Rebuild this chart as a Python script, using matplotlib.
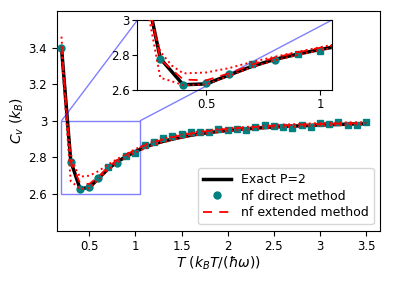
import numpy as np
import matplotlib
matplotlib.use('Agg')
import matplotlib.pyplot as plt
from matplotlib.ticker import FormatStrFormatter
from mpl_toolkits.axes_grid1.inset_locator import mark_inset

# ===============================
# DATA
# ===============================
T = np.round(np.arange(0.2, 3.51, 0.1), 2)

cv_exact = [3.40, 2.78, 2.63, 2.635, 2.685, 2.735, 2.775, 2.805, 2.832, 2.856,
            2.873, 2.888, 2.900, 2.911, 2.921, 2.929, 2.936, 2.942, 2.947, 2.952,
            2.956, 2.960, 2.963, 2.966, 2.969, 2.971, 2.973, 2.975, 2.977, 2.979,
            2.980, 2.982, 2.983, 2.984]

cv_ext = [3.41, 2.775, 2.66, 2.655, 2.695, 2.745, 2.785, 2.815, 2.842, 2.866,
          2.883, 2.898, 2.910, 2.921, 2.930, 2.938, 2.945, 2.951, 2.956, 2.960,
          2.964, 2.967, 2.970, 2.973, 2.975, 2.977, 2.979, 2.981, 2.982, 2.984,
          2.985, 2.986, 2.987, 2.988]

# dotted bounds of the extended method
T_up = [0.2, 0.25, 0.3, 0.35, 0.4, 0.5, 0.6, 0.7, 0.8, 0.9, 1.0, 1.1, 1.2, 1.4,
        1.6, 1.8, 2.0, 2.5, 3.0, 3.5]
cv_up = [3.46, 3.05, 2.82, 2.74, 2.695, 2.70, 2.725, 2.76, 2.79, 2.818, 2.845,
         2.870, 2.888, 2.915, 2.935, 2.949, 2.960, 2.977, 2.988, 2.993]
T_lo = [0.2, 0.25, 0.3, 0.35, 0.4, 0.5, 0.6, 0.7, 0.8, 0.9, 1.0, 1.2, 1.4,
        1.6, 1.8, 2.0, 2.5, 3.0, 3.5]
cv_lo = [3.38, 3.02, 2.67, 2.65, 2.628, 2.632, 2.68, 2.73, 2.77, 2.80, 2.828,
         2.869, 2.896, 2.918, 2.933, 2.944, 2.963, 2.974, 2.982]

# nf direct method (circles and squares)
T_dir_o = [0.2, 0.3, 0.4, 0.5, 0.6, 0.8]
cv_dir_o = [3.40, 2.777, 2.627, 2.64, 2.69, 2.771]
T_dir_s = [0.7, 0.9, 1.0, 1.1, 1.2, 1.3, 1.4, 1.5, 1.6, 1.7, 1.8, 1.9, 2.0, 2.1,
           2.2, 2.3, 2.4, 2.5, 2.6, 2.7, 2.8, 2.9, 3.0, 3.1, 3.2, 3.3, 3.4, 3.5]
cv_dir_s = [2.748, 2.806, 2.825, 2.868, 2.882, 2.904, 2.918, 2.928, 2.937, 2.937,
            2.940, 2.955, 2.951, 2.955, 2.951, 2.969, 2.977, 2.973, 2.964, 2.959,
            2.977, 2.964, 2.987, 2.982, 2.991, 2.980, 2.977, 2.991]

TEAL = '#008080'


def draw(a):
    a.plot(T, cv_exact, color='black', lw=2.5, label='Exact P=2', zorder=2)
    a.plot(T_dir_o, cv_dir_o, 'o', color=TEAL, ms=5, label='nf direct method', zorder=3)
    a.plot(T_dir_s, cv_dir_s, 's', color=TEAL, ms=4.5, zorder=3)
    a.plot(T, cv_ext, '--', color='red', lw=1.3, dashes=(5, 4),
           label='nf extended method', zorder=4)
    a.plot(T_up, cv_up, ':', color='red', lw=1.4, zorder=4)
    a.plot(T_lo, cv_lo, ':', color='red', lw=1.4, zorder=4)


# ===============================
# MAIN PLOT
# ===============================
fig = plt.figure(figsize=(3.95, 2.83), dpi=100)
ax = fig.add_axes([0.144, 0.185, 0.818, 0.776])
draw(ax)
ax.set_xlim(0.15, 3.65)
ax.set_ylim(2.4, 3.6)
ax.set_xticks([0.5, 1, 1.5, 2, 2.5, 3, 3.5])
ax.set_yticks([2.6, 2.8, 3.0, 3.2, 3.4])
ax.xaxis.set_major_formatter(FormatStrFormatter('%g'))
ax.yaxis.set_major_formatter(FormatStrFormatter('%g'))
ax.tick_params(labelsize=8.5)
ax.set_xlabel(r'$T\ (k_BT/(\hbar\omega))$', fontsize=10, labelpad=1)
ax.set_ylabel(r'$C_v\ (k_B)$', fontsize=10, labelpad=2)
ax.legend(loc='lower right', fontsize=9, handlelength=2.2,
          borderaxespad=0.5, labelspacing=0.3)

# ===============================
# INSET
# ===============================
axins = fig.add_axes([0.348, 0.682, 0.492, 0.247])
draw(axins)
axins.set_xlim(0.2, 1.05)
axins.set_ylim(2.6, 3.0)
axins.set_xticks([0.5, 1])
axins.set_yticks([2.6, 2.8, 3.0])
axins.xaxis.set_major_formatter(FormatStrFormatter('%g'))
axins.yaxis.set_major_formatter(FormatStrFormatter('%g'))
axins.tick_params(labelsize=8.5, pad=2)
mark_inset(ax, axins, loc1=2, loc2=1, fc='none', ec=(0, 0, 1, 0.5), lw=1)

fig.savefig('out.png', dpi=100)
